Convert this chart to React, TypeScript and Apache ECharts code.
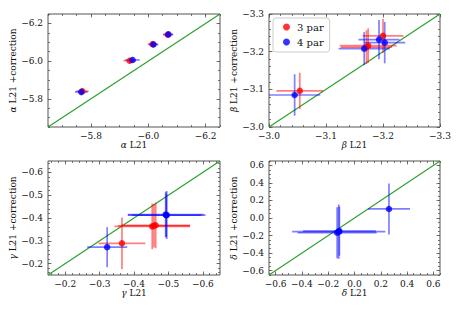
import React, { useEffect, useRef } from "react";
import * as echarts from "echarts";

// ---- data: [L21 value, L21+correction value, x error, y error] ----
const alpha3par = [
  [-5.770, -5.840, 0.022, 0.018],
  [-5.935, -6.002, 0.022, 0.015],
  [-6.015, -6.090, 0.017, 0.013],
  [-6.068, -6.140, 0.017, 0.014],
];
const alpha4par = [
  [-5.766, -5.836, 0.022, 0.018],
  [-5.945, -6.006, 0.025, 0.016],
  [-6.018, -6.088, 0.017, 0.014],
  [-6.070, -6.142, 0.017, 0.014],
];
const beta3par = [
  [-3.054, -3.096, 0.041, 0.048],
  [-3.174, -3.216, 0.050, 0.046],
  [-3.171, -3.212, 0.045, 0.045],
  [-3.200, -3.242, 0.036, 0.045],
];
const beta4par = [
  [-3.045, -3.085, 0.045, 0.055],
  [-3.167, -3.208, 0.045, 0.044],
  [-3.193, -3.232, 0.036, 0.052],
  [-3.203, -3.224, 0.036, 0.055],
];
const gamma3par = [
  [-0.365, -0.289, 0.068, 0.113],
  [-0.453, -0.363, 0.110, 0.100],
  [-0.463, -0.368, 0.100, 0.100],
  [-0.458, -0.366, 0.105, 0.095],
];
const gamma4par = [
  [-0.322, -0.272, 0.058, 0.088],
  [-0.495, -0.413, 0.113, 0.105],
  [-0.492, -0.415, 0.110, 0.100],
  [-0.494, -0.412, 0.100, 0.095],
];
const delta4par = [
  [0.262, 0.103, 0.160, 0.290],
  [-0.120, -0.156, 0.354, 0.310],
  [-0.115, -0.150, 0.277, 0.280],
  [-0.132, -0.168, 0.300, 0.290],
];

const alphaTicks = [-5.8, -6.0, -6.2];
const betaTicks = [-3.0, -3.1, -3.2, -3.3];
const gammaTicks = [-0.2, -0.3, -0.4, -0.5, -0.6];
const deltaTicks = [-0.6, -0.4, -0.2, 0.0, 0.2, 0.4, 0.6];

const RED = "#ff0000";
const BLUE = "#0000ff";
const GREEN = "#2ca02c";
const FONT = '"DejaVu Serif", serif';
const TXT = "#111";
const FRAME = "#555";

const panels = [
  { greek: "α", min: -6.25, max: -5.65, inverse: true, ticks: alphaTicks, minorStep: 0.05,
    sets: [{ name: "3 par", data: alpha3par, color: RED }, { name: "4 par", data: alpha4par, color: BLUE }],
    grid: { left: 48, top: 14, width: 172, height: 113 } },
  { greek: "β", min: -3.3, max: -3.0, inverse: true, ticks: betaTicks, minorStep: 0.02,
    sets: [{ name: "3 par", data: beta3par, color: RED }, { name: "4 par", data: beta4par, color: BLUE }],
    grid: { left: 269, top: 14, width: 171, height: 113 } },
  { greek: "γ", min: -0.65, max: -0.15, inverse: true, ticks: gammaTicks, minorStep: 0.02,
    sets: [{ name: "3 par", data: gamma3par, color: RED }, { name: "4 par", data: gamma4par, color: BLUE }],
    grid: { left: 48, top: 161, width: 172, height: 114 } },
  { greek: "δ", min: -0.65, max: 0.65, inverse: false, ticks: deltaTicks, minorStep: 0.05,
    sets: [{ name: "4 par", data: delta4par, color: BLUE }],
    grid: { left: 269, top: 161, width: 171, height: 114 } },
];

function minorValues(min: number, max: number, step: number) {
  const out: number[] = [];
  const start = Math.ceil(min / step - 1e-9);
  const end = Math.floor(max / step + 1e-9);
  for (let k = start; k <= end; k++) out.push(+(k * step).toFixed(6));
  return out;
}

const fmt = (v: number) => (Math.abs(v) < 1e-9 ? "0.0" : v.toFixed(1)).replace("-", "\u2212");

function buildOption() {
  const xAxis: any[] = [];
  const yAxis: any[] = [];
  const series: any[] = [];
  const grid: any[] = [];
  panels.forEach((p, i) => {
    grid.push({ ...p.grid, show: true, borderColor: FRAME, borderWidth: 1, backgroundColor: "transparent" });
    const minors = minorValues(p.min, p.max, p.minorStep);
    const rich = { g: { fontStyle: "italic", fontFamily: FONT, fontSize: 9, color: TXT } };
    const mk = (isX: boolean, pos: string, major: boolean, main: boolean) => ({
      type: "value",
      gridIndex: i,
      min: p.min,
      max: p.max,
      inverse: p.inverse,
      position: pos,
      axisLine: { show: false, onZero: false },
      splitLine: { show: false },
      axisTick: {
        show: true,
        inside: true,
        length: major ? 3.5 : 2,
        customValues: major ? p.ticks : minors,
        lineStyle: { color: FRAME, width: 0.8 },
      },
      axisLabel: main
        ? { show: true, customValues: p.ticks, formatter: fmt, fontFamily: FONT, fontSize: 9, color: TXT, margin: isX ? 4 : 5 }
        : { show: false },
      ...(main
        ? {
            name: isX ? `{g|${p.greek}} L21` : `{g|${p.greek}} L21 +correction`,
            nameLocation: "middle",
            nameGap: isX ? 13 : 27,
            nameTextStyle: { fontFamily: FONT, fontSize: 9, color: TXT, rich },
          }
        : {}),
    });
    xAxis.push(mk(true, "bottom", true, true), mk(true, "bottom", false, false), mk(true, "top", true, false), mk(true, "top", false, false));
    yAxis.push(mk(false, "left", true, true), mk(false, "left", false, false), mk(false, "right", true, false), mk(false, "right", false, false));
    const ax = i * 4;
    series.push({
      type: "line",
      xAxisIndex: ax,
      yAxisIndex: ax,
      data: [[p.min, p.min], [p.max, p.max]],
      symbol: "none",
      silent: true,
      lineStyle: { color: GREEN, width: 1.2 },
      z: 1,
    });
    p.sets.forEach((s) => {
      series.push({
        type: "custom",
        name: s.name + " err",
        xAxisIndex: ax,
        yAxisIndex: ax,
        clip: true,
        silent: true,
        data: s.data,
        encode: { x: 0, y: 1 },
        renderItem: (_params: any, api: any) => {
          const x = api.value(0), y = api.value(1), xe = api.value(2), ye = api.value(3);
          const a = api.coord([x - xe, y]), b = api.coord([x + xe, y]);
          const c = api.coord([x, y - ye]), d = api.coord([x, y + ye]);
          const style = { stroke: s.color, lineWidth: 1.7, opacity: 0.5 };
          return {
            type: "group",
            children: [
              { type: "line", shape: { x1: a[0], y1: a[1], x2: b[0], y2: b[1] }, style },
              { type: "line", shape: { x1: c[0], y1: c[1], x2: d[0], y2: d[1] }, style },
            ],
          };
        },
        z: 2,
      });
      series.push({
        type: "scatter",
        name: s.name,
        xAxisIndex: ax,
        yAxisIndex: ax,
        data: s.data.map((d) => [d[0], d[1]]),
        symbol: "circle",
        symbolSize: 6.5,
        itemStyle: { color: s.color },
        z: 3,
      });
    });
  });
  return {
    animation: false,
    grid,
    xAxis,
    yAxis,
    series,
    legend: {
      data: [{ name: "3 par", icon: "circle" }, { name: "4 par", icon: "circle" }],
      orient: "vertical",
      left: 273,
      top: 18,
      padding: [2, 6, 3, 10],
      itemGap: 1,
      itemWidth: 7,
      itemHeight: 7,
      borderColor: "#ccc",
      borderWidth: 1,
      borderRadius: 3,
      backgroundColor: "#fff",
      textStyle: { fontFamily: FONT, fontSize: 10, color: TXT, lineHeight: 14, padding: [0, 0, 0, 2] },
    },
  };
}

export default function App() {
  const ref = useRef<HTMLDivElement>(null);
  useEffect(() => {
    if (!ref.current) return;
    const chart = echarts.init(ref.current, undefined, { renderer: "svg" });
    chart.setOption(buildOption() as any);
    return () => chart.dispose();
  }, []);
  return (
    <div
      ref={ref}
      style={{ position: "fixed", left: 0, top: 0, width: 463, height: 309, background: "#fff" }}
    />
  );
}
